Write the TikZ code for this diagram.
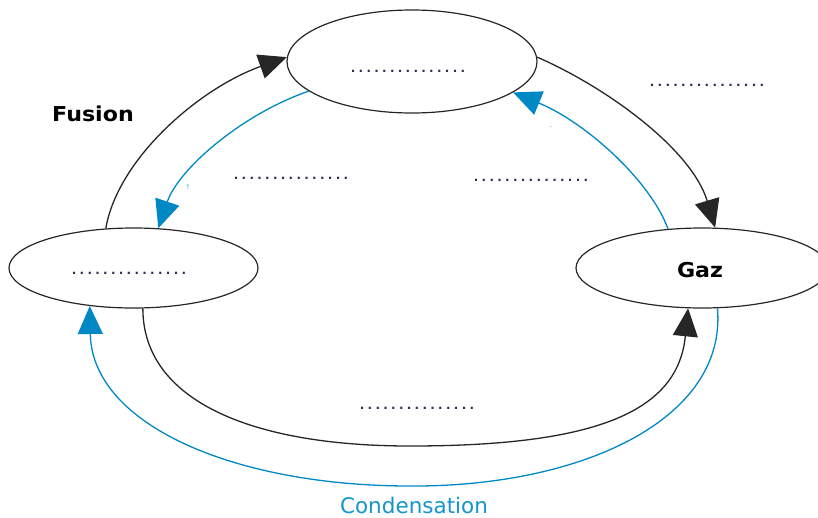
\documentclass[tikz,border=0pt]{standalone}
\usepackage{fontspec}
\usepackage{graphicx}
\setmainfont{DejaVu Sans}
\usetikzlibrary{arrows.meta,shapes.geometric}
\definecolor{cblue}{RGB}{20,150,205}
\definecolor{ablue}{RGB}{0,136,196}
\definecolor{dotc}{RGB}{50,45,80}
\newcommand{\dotrow}{\hbox to 118pt{\xleaders\hbox to 7.4pt{\hss.\hss}\hfill}}
\newcommand{\wide}[1]{\scalebox{1.08}[1]{#1}}
\begin{document}
\begin{tikzpicture}[x=1pt,y=-1pt,
  state/.style={draw=black!85,line width=1.2pt,ellipse,inner sep=0pt},
  blk/.style={draw=black!85,line width=1.3pt,-{Triangle[length=28pt,width=25pt]}},
  blu/.style={draw=cblue,line width=1.3pt,-{Triangle[length=28pt,width=25pt,fill=ablue]},ablue},
  dots/.style={anchor=base,inner sep=0pt,text=dotc,font=\fontsize{12}{13}\selectfont\bfseries},
  lbl/.style={inner sep=0pt,font=\fontsize{20.5}{24}\selectfont\bfseries}]
\useasboundingbox (0,0) rectangle (818,517);
\node[state,minimum width=250pt,minimum height=103pt] (T) at (412,61.5) {};
\node[state,minimum width=249pt,minimum height=80pt] (L) at (133.5,268) {};
\node[state,minimum width=252pt,minimum height=80pt] (G) at (702,268) {};
\node[lbl] (gaz) at (700,270) {\wide{Gaz}};
\node[lbl] (fusion) at (93,113.5) {\wide{Fusion}};
\node[inner sep=0pt,text=cblue,font=\fontsize{21.5}{24}\selectfont] (cond) at (414,505) {Condensation};
\node[dots] (d1) at (408,72) {\dotrow};
\node[dots] (d2) at (129,274) {\dotrow};
\node[dots] (d3) at (291,179) {\dotrow};
\node[dots] (d4) at (531,181) {\dotrow};
\node[dots] (d5) at (707,86) {\dotrow};
\node[dots] (d6) at (417,409) {\dotrow};
\node[inner sep=0pt,text=cblue,font=\fontsize{7}{8}\selectfont] (s1) at (188,187) {!};
\node[inner sep=0pt,text=cblue,font=\fontsize{7}{8}\selectfont] (s2) at (551,127) {.};
% Fusion arc
\draw[blk] (L.125.5) .. controls (118,158) and (200,88) .. (T.178);
% blue from top to left
\draw[blu] (T.196.8) .. controls (240,115) and (178,170) .. (L.58.5);
% black top to gaz
\draw[blk] (T.2) .. controls (608,88) and (692,150) .. (G.72);
% blue gaz to top
\draw[blu] (G.131) .. controls (650,180) and (585,122) .. (T.343.4);
% bottom black
\coordinate (bm) at (410,446);
\draw[blk] (L.283) .. controls (143,400) and (250,446) .. (bm) .. controls (600,446) and (678,410) .. (G.251.5);
% bottom blue
\coordinate (bb) at (410,486);
\draw[blu] (G.291) .. controls (727,420) and (580,487) .. (bb) .. controls (235,486) and (92,425) .. (L.221);
\end{tikzpicture}
\end{document}
